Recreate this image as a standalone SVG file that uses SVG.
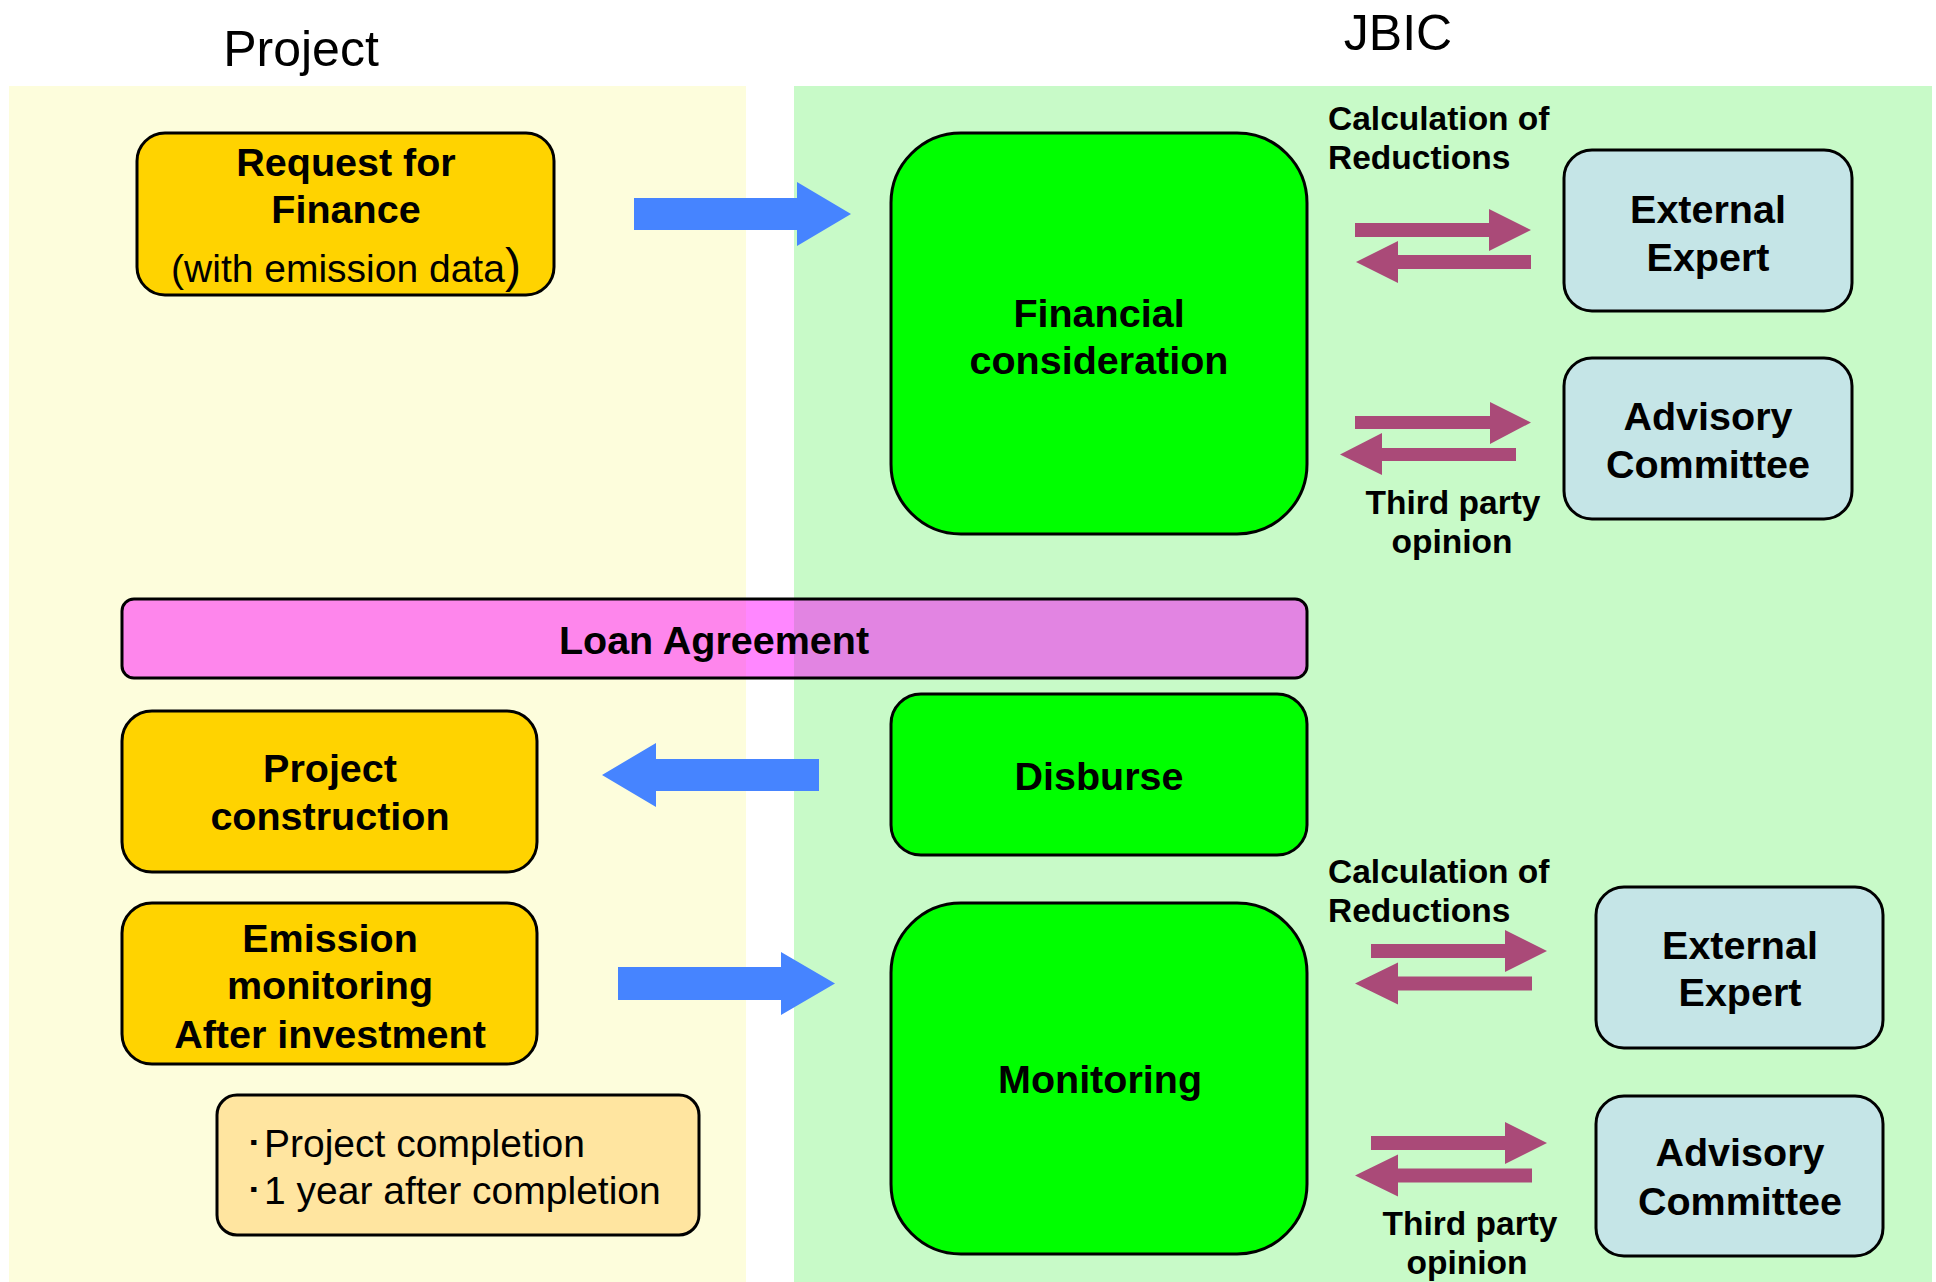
<svg xmlns="http://www.w3.org/2000/svg" width="1936" height="1282" viewBox="0 0 1936 1282">
<style>
  .hdr { font-family: "Liberation Sans", Arial, sans-serif; font-size: 50px; fill: #000; text-anchor: middle; }
  .b { font-family: "Liberation Sans", Arial, sans-serif; font-weight: bold; font-size: 39.5px; fill: #000; text-anchor: middle; }
  .r { font-family: "Liberation Sans", Arial, sans-serif; font-size: 39px; fill: #000; }
  .lbl { font-family: "Liberation Sans", Arial, sans-serif; font-weight: bold; font-size: 33.5px; fill: #000; }
  .box { stroke: #000; stroke-width: 3; }
  .gold { fill: #FFD300; }
  .lime { fill: #00FF00; }
  .sky { fill: #C5E5E7; }
  .note { fill: #FFE5A0; }
  .blue { fill: #4684FF; }
  .plum { fill: #AA4A78; }
</style>
<rect width="1936" height="1282" fill="#FFFFFF"/>
<g id="lanes">
  <rect x="9" y="86" width="737" height="1196" fill="#FDFDDC"/>
  <rect x="794" y="86" width="1138" height="1196" fill="#C8FAC8"/>
  <text class="hdr" x="301" y="66">Project</text>
  <text class="hdr" x="1398" y="50">JBIC</text>
</g>
<g id="connectors">
  <polygon class="blue" points="634,198 797,198 797,182 851,214 797,246 797,230 634,230"/>
  <polygon class="blue" points="819,759 656,759 656,743 602,775 656,807 656,791 819,791"/>
  <polygon class="blue" points="618,967 781,967 781,952 835,983.5 781,1015 781,1000 618,1000"/>
  <polygon class="plum" points="1355,223 1489,223 1489,209 1531,230 1489,251 1489,237 1355,237"/>
  <polygon class="plum" points="1531,255 1398,255 1398,241 1356,262 1398,283 1398,269 1531,269"/>
  <polygon class="plum" points="1355,416 1490,416 1490,402 1531,422.5 1490,444 1490,429 1355,429"/>
  <polygon class="plum" points="1516,448 1382,448 1382,433 1340,454.5 1382,475 1382,461 1516,461"/>
  <polygon class="plum" points="1371,944 1505,944 1505,930 1547,951 1505,972 1505,958 1371,958"/>
  <polygon class="plum" points="1532,976.5 1398,976.5 1398,962.5 1355,983.5 1398,1004.5 1398,990.5 1532,990.5"/>
  <polygon class="plum" points="1371,1136 1505,1136 1505,1122 1547,1143 1505,1164 1505,1150 1371,1150"/>
  <polygon class="plum" points="1532,1168.5 1398,1168.5 1398,1154.5 1355,1175.5 1398,1196.5 1398,1182.5 1532,1182.5"/>
  <text class="lbl" x="1328" y="130">Calculation of</text>
  <text class="lbl" x="1328" y="169">Reductions</text>
  <text class="lbl" x="1453" y="514" text-anchor="middle">Third party</text>
  <text class="lbl" x="1452" y="553" text-anchor="middle">opinion</text>
  <text class="lbl" x="1328" y="883">Calculation of</text>
  <text class="lbl" x="1328" y="922">Reductions</text>
  <text class="lbl" x="1470" y="1235" text-anchor="middle">Third party</text>
  <text class="lbl" x="1467" y="1274" text-anchor="middle">opinion</text>
</g>
<g id="request">
  <rect class="box gold" x="137" y="133" width="417" height="162" rx="28" ry="28"/>
  <text class="b" x="346" y="176">Request for</text>
  <text class="b" x="346" y="223">Finance</text>
  <text class="r" x="346" y="282" text-anchor="middle">(with emission data<tspan font-size="48">)</tspan></text>
</g>
<g id="financial">
  <rect class="box lime" x="891" y="133" width="416" height="401" rx="70" ry="70"/>
  <text class="b" x="1099" y="327">Financial</text>
  <text class="b" x="1099" y="374">consideration</text>
</g>
<g id="expert1">
  <rect class="box sky" x="1564" y="150" width="288" height="161" rx="28" ry="28"/>
  <text class="b" x="1708" y="223">External</text>
  <text class="b" x="1708" y="271">Expert</text>
</g>
<g id="advisory1">
  <rect class="box sky" x="1564" y="358" width="288" height="161" rx="28" ry="28"/>
  <text class="b" x="1708" y="430">Advisory</text>
  <text class="b" x="1708" y="478">Committee</text>
</g>
<g id="loan">
  <rect class="box" x="122" y="599" width="1185" height="79" rx="12" ry="12" fill="#FF00FF" fill-opacity="0.47"/>
  <text class="b" x="714" y="654">Loan Agreement</text>
</g>
<g id="construction">
  <rect class="box gold" x="122" y="711" width="415" height="161" rx="30" ry="30"/>
  <text class="b" x="330" y="782">Project</text>
  <text class="b" x="330" y="830">construction</text>
</g>
<g id="disburse">
  <rect class="box lime" x="891" y="694" width="416" height="161" rx="30" ry="30"/>
  <text class="b" x="1099" y="790">Disburse</text>
</g>
<g id="emission">
  <rect class="box gold" x="122" y="903" width="415" height="161" rx="30" ry="30"/>
  <text class="b" x="330" y="952">Emission</text>
  <text class="b" x="330" y="999">monitoring</text>
  <text class="b" x="330" y="1048">After investment</text>
</g>
<g id="timing">
  <rect class="box note" x="217" y="1095" width="482" height="140" rx="20" ry="20"/>
  <text class="r" x="244" y="1157" font-family="'Liberation Sans', 'Noto Sans CJK JP', sans-serif">･Project completion</text>
  <text class="r" x="244" y="1204" font-family="'Liberation Sans', 'Noto Sans CJK JP', sans-serif">･1 year after completion</text>
</g>
<g id="monitoring">
  <rect class="box lime" x="891" y="903" width="416" height="351" rx="70" ry="70"/>
  <text class="b" x="1100" y="1093">Monitoring</text>
</g>
<g id="expert2">
  <rect class="box sky" x="1596" y="887" width="287" height="161" rx="28" ry="28"/>
  <text class="b" x="1740" y="959">External</text>
  <text class="b" x="1740" y="1006">Expert</text>
</g>
<g id="advisory2">
  <rect class="box sky" x="1596" y="1096" width="287" height="160" rx="28" ry="28"/>
  <text class="b" x="1740" y="1166">Advisory</text>
  <text class="b" x="1740" y="1215">Committee</text>
</g>
</svg>
